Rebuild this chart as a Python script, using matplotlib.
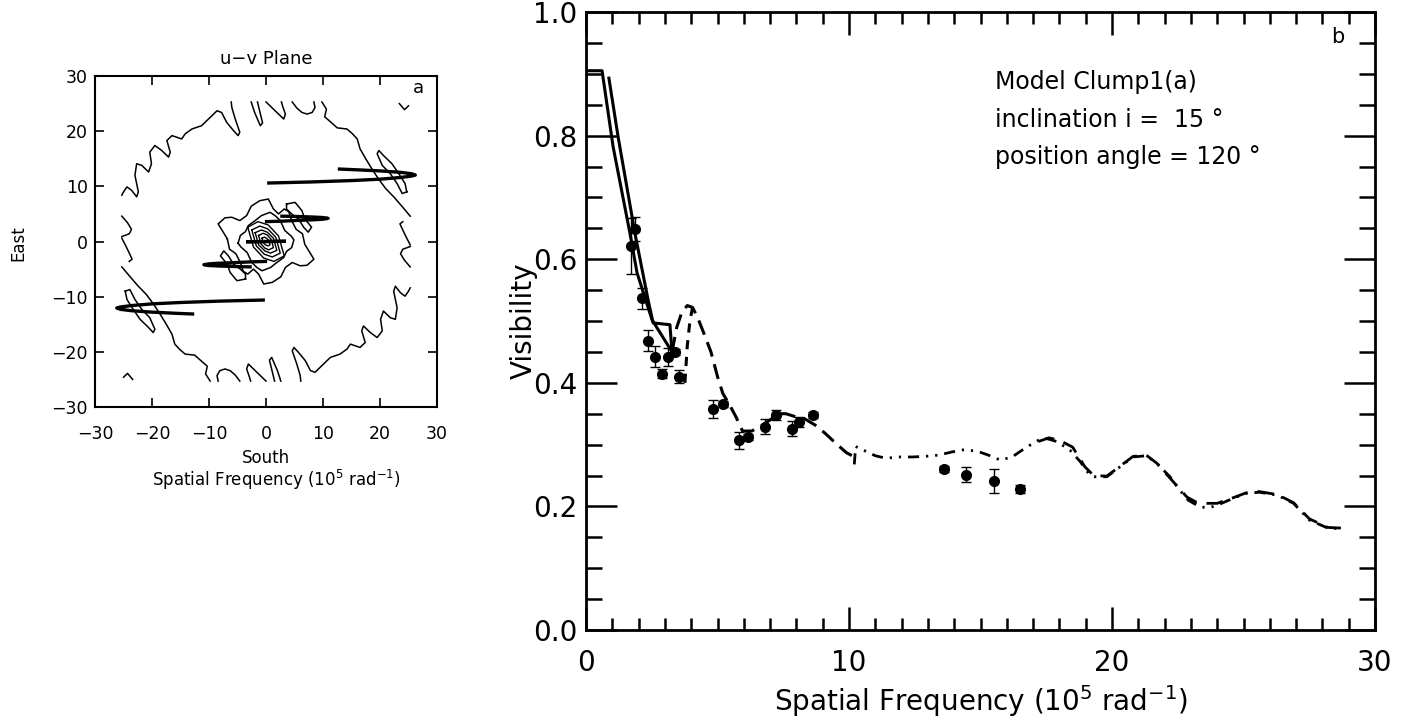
import numpy as np
import matplotlib
matplotlib.use('Agg')
import matplotlib.pyplot as plt

plt.rcParams['font.family'] = ['DejaVu Sans']

# === (a) u-v plane: contour pieces (u, v) in 10^5 rad^-1 ===
# only half of each symmetric contour is listed, V(-u,-v) = V*(u,v) gives the rest
outer_pieces = [
    [(-25.3, 8.4), (-25.0, 9.0), (-24.4, 9.9), (-23.6, 9.3), (-22.7, 8.1), (-22.4, 9.0),
     (-23.0, 12.0), (-22.7, 14.1), (-21.8, 13.8), (-20.6, 12.6), (-20.1, 14.1), (-20.4, 16.2),
     (-19.5, 17.4), (-18.3, 16.5), (-17.1, 15.3), (-16.8, 16.2), (-17.4, 18.3), (-16.5, 19.2),
     (-14.8, 18.6), (-14.2, 19.5), (-13.0, 20.4), (-11.3, 21.0), (-9.8, 22.5), (-8.6, 23.7),
     (-7.8, 23.4), (-6.9, 21.6), (-5.7, 20.1), (-4.9, 19.2), (-4.6, 19.8), (-5.4, 22.2),
     (-6.0, 24.3), (-6.1, 25.3)],
    [(-2.6, 25.3), (-2.0, 23.4), (-1.0, 21.0), (-0.6, 21.5), (-1.1, 23.6), (-1.5, 25.3)],
    [(0.0, 25.3), (1.6, 23.7), (3.1, 22.2), (3.4, 23.1), (2.9, 24.6), (2.7, 25.3)],
    [(4.6, 25.3), (5.4, 24.2), (6.3, 23.4), (7.2, 23.1), (8.1, 23.4), (8.6, 24.3), (8.4, 25.3)],
    [(9.8, 25.3), (10.6, 24.0), (10.3, 22.6), (11.2, 21.8), (12.5, 20.6), (14.2, 20.4),
     (15.1, 19.6), (16.0, 18.6), (16.5, 16.8), (17.5, 15.0), (18.5, 13.3), (19.7, 11.4),
     (21.0, 9.6), (22.5, 8.0), (24.0, 6.2), (25.3, 4.6)],
    [(24.7, 9.0), (23.9, 8.7), (23.0, 10.5), (21.8, 12.3), (20.4, 13.8), (19.5, 15.9),
     (19.8, 16.5), (20.6, 15.6), (22.1, 14.1), (23.3, 12.3), (24.4, 10.5), (24.7, 9.0)],
    [(-25.3, 4.6), (-24.3, 3.4), (-23.6, 2.2), (-24.0, 1.4), (-25.3, 0.9)],
    [(-25.3, 0.6), (-24.6, -0.8), (-23.9, -2.3), (-23.5, -3.2), (-24.0, -3.6)],
    [(23.4, 25.0), (24.3, 23.9), (25.0, 24.6)],
    [(3.6, 6.8), (5.1, 7.1), (6.3, 5.6), (6.8, 4.1), (8.0, 2.6), (7.4, 1.7), (6.6, 2.6),
     (5.7, 4.1), (4.5, 5.0), (3.6, 5.9), (3.6, 6.8)],
]
# closed inner contours: first half only
half_contours = [
    [(-6.8, 0.5), (-8.4, 3.2), (-7.2, 4.3), (-6.0, 4.4), (-4.6, 3.8), (-3.4, 4.7), (-2.6, 6.4),
     (-1.1, 7.4), (0.4, 7.7), (1.3, 5.9), (2.2, 5.0), (3.2, 5.9), (4.0, 5.4), (4.5, 3.8),
     (5.3, 2.2), (6.4, 1.4), (6.8, -0.5)],
    [(-4.9, -0.3), (-4.5, 1.1), (-3.6, 1.8), (-3.1, 2.9), (-1.9, 3.8), (-0.8, 4.7), (0.7, 5.3),
     (1.6, 4.7), (2.5, 3.8), (3.3, 2.0), (4.4, 1.0), (4.9, 0.3)],
]
core_contours = [
    [(-3.2, 2.6), (-1.4, 3.6), (0.4, 3.0), (2.2, 1.0), (3.2, -2.6), (1.4, -3.6), (-0.4, -3.0), (-2.2, -1.0)],
    [(-2.5, 2.1), (-1.1, 2.8), (0.3, 2.3), (1.7, 0.8), (2.5, -2.1), (1.1, -2.8), (-0.3, -2.3), (-1.7, -0.8)],
    [(-1.9, 1.6), (-0.8, 2.1), (0.2, 1.7), (1.3, 0.6), (1.9, -1.6), (0.8, -2.1), (-0.2, -1.7), (-1.3, -0.6)],
    [(-1.3, 1.1), (-0.5, 1.5), (0.2, 1.2), (0.9, 0.4), (1.3, -1.1), (0.5, -1.5), (-0.2, -1.2), (-0.9, -0.4)],
    [(-0.7, 0.6), (-0.3, 0.8), (0.1, 0.6), (0.5, 0.2), (0.7, -0.6), (0.3, -0.8), (-0.1, -0.6), (-0.5, -0.2)],
]
# uv tracks (mirrored as well)
uv_tracks = [
    [(0.2, 10.6), (8.0, 10.8), (15.0, 11.05), (20.0, 11.3), (23.5, 11.6), (25.5, 11.85),
     (26.2, 12.05), (25.5, 12.3), (23.5, 12.55), (20.0, 12.8), (16.0, 13.0), (12.6, 13.15)],
    [(-0.2, 3.6), (3.0, 3.7), (6.0, 3.85), (8.5, 3.95), (10.0, 4.05), (10.9, 4.2),
     (10.0, 4.35), (8.0, 4.45), (5.0, 4.55), (2.5, 4.6)],
    [(-3.5, -0.05), (3.5, 0.05)],
]

# === (b) visibility data ===
obs_x = [1.70, 1.86, 2.13, 2.36, 2.62, 2.87, 3.12, 3.38, 3.54, 4.84, 5.20, 5.83, 6.16,
         6.80, 7.23, 7.83, 8.08, 8.63, 13.6, 14.45, 15.5, 16.5]
obs_v = [0.621, 0.649, 0.537, 0.468, 0.442, 0.415, 0.442, 0.450, 0.410, 0.358, 0.366, 0.307,
         0.312, 0.329, 0.348, 0.326, 0.336, 0.348, 0.260, 0.251, 0.241, 0.228]
obs_err = [0.045, 0.020, 0.017, 0.017, 0.017, 0.008, 0.015, 0.005, 0.010, 0.015, 0.005, 0.014,
           0.005, 0.012, 0.008, 0.012, 0.008, 0.005, 0.005, 0.012, 0.020, 0.006]

solid1_x = [0.0, 0.61, 1.03, 1.67, 1.94, 2.51, 3.27]
solid1_v = [0.905, 0.905, 0.782, 0.642, 0.578, 0.502, 0.450]
solid2_x = [0.87, 1.22, 1.86, 2.36, 2.55, 3.19, 3.27]
solid2_v = [0.893, 0.798, 0.642, 0.534, 0.497, 0.494, 0.450]

dash1_x = [3.27, 3.45, 3.65, 3.85, 4.05, 4.25, 4.5, 4.75, 5.0, 5.2, 5.45, 5.7, 5.95, 6.3,
           6.65, 7.0, 7.3, 7.6, 7.9, 8.3, 8.7, 9.1, 9.5, 9.9, 10.25]
dash1_v = [0.45, 0.49, 0.515, 0.525, 0.522, 0.505, 0.478, 0.45, 0.41, 0.383, 0.365, 0.345,
           0.322, 0.322, 0.33, 0.34, 0.35, 0.35, 0.346, 0.342, 0.332, 0.318, 0.302, 0.287, 0.279]
dash2_x = [3.76, 3.85, 3.95, 4.05]
dash2_v = [0.40, 0.46, 0.50, 0.522]

dot_x = [10.2, 10.25, 10.6, 11.0, 11.4, 11.9, 12.4, 12.9, 13.4, 13.9, 14.4, 14.9, 15.3, 15.75,
         16.2, 16.75, 17.2, 17.5, 17.9, 18.4, 18.8, 19.1, 19.3, 19.8, 20.3, 20.8, 21.3, 21.7,
         22.2, 22.6, 22.9, 23.35, 23.7, 24.0, 24.6, 25.1, 25.6, 26.3, 26.9, 27.5, 28.2, 28.7]
dot_v = [0.268, 0.297, 0.29, 0.282, 0.278, 0.28, 0.28, 0.281, 0.283, 0.288, 0.292, 0.289,
         0.283, 0.275, 0.28, 0.296, 0.307, 0.31, 0.305, 0.291, 0.272, 0.254, 0.248, 0.248,
         0.264, 0.28, 0.282, 0.27, 0.248, 0.225, 0.21, 0.199, 0.198, 0.202, 0.213, 0.221,
         0.223, 0.218, 0.205, 0.178, 0.165, 0.164]
long_x = [17.2, 17.6, 18.0, 18.5, 18.97, 19.3, 19.8, 20.3, 20.8, 21.3, 21.7, 22.2, 22.85,
          23.2, 23.6, 24.0, 24.6, 25.1, 25.6, 26.3, 26.9, 27.5, 28.2, 28.7]
long_v = [0.305, 0.311, 0.307, 0.296, 0.264, 0.25, 0.249, 0.265, 0.281, 0.283, 0.27, 0.246,
          0.215, 0.207, 0.205, 0.205, 0.214, 0.222, 0.224, 0.219, 0.206, 0.18, 0.166, 0.165]

fig = plt.figure(figsize=(14.06, 7.24), dpi=100)

# --- panel a ---
ax1 = fig.add_axes([0.0676, 0.4378, 0.2432, 0.4572])
for piece in outer_pieces:
    p = np.array(piece)
    ax1.plot(p[:, 0], p[:, 1], color='black', lw=1.1, solid_joinstyle='round')
    ax1.plot(-p[:, 0], -p[:, 1], color='black', lw=1.1, solid_joinstyle='round')
for half in half_contours:
    h = np.array(half)
    full = np.vstack([h, -h, h[:1]])
    ax1.plot(full[:, 0], full[:, 1], color='black', lw=1.1, solid_joinstyle='round')
for ring in core_contours:
    r = np.array(ring + ring[:1])
    ax1.plot(r[:, 0], r[:, 1], color='black', lw=1.0, solid_joinstyle='round')
for tr in uv_tracks:
    t = np.array(tr)
    ax1.plot(t[:, 0], t[:, 1], color='black', lw=2.4, solid_capstyle='butt')
    ax1.plot(-t[:, 0], -t[:, 1], color='black', lw=2.4, solid_capstyle='butt')

ax1.set_xlim(-30, 30)
ax1.set_ylim(-30, 30)
ax1.set_xticks([-30, -20, -10, 0, 10, 20, 30])
ax1.set_yticks([-30, -20, -10, 0, 10, 20, 30])
ax1.tick_params(direction='in', length=6.5, width=1.2, top=True, right=True, labelsize=12.5)
ax1.tick_params(axis='x', pad=13)
ax1.tick_params(axis='y', pad=5)
for s in ax1.spines.values():
    s.set_linewidth(1.5)
ax1.set_title('u\u2212v Plane', fontsize=13, pad=9)
ax1.text(0.945, 0.965, 'a', transform=ax1.transAxes, ha='center', va='center', fontsize=13)
fig.text(18 / 1406, 1 - 243 / 724, 'East', rotation=90, ha='center', va='center', fontsize=12)
fig.text(266 / 1406, 1 - 458 / 724, 'South', ha='center', va='center', fontsize=12)
fig.text(276 / 1406, 1 - 480 / 724, 'Spatial Frequency (10$^5$ rad$^{-1}$)',
         ha='center', va='center', fontsize=12)

# --- panel b ---
ax2 = fig.add_axes([0.4168, 0.1298, 0.5612, 0.8536])
ax2.plot(solid1_x, solid1_v, color='black', lw=2.2)
ax2.plot(solid2_x, solid2_v, color='black', lw=2.2)
ax2.plot(dash1_x, dash1_v, color='black', lw=2.2, linestyle=(0, (5, 2.6)))
ax2.plot(dash2_x, dash2_v, color='black', lw=2.2, linestyle=(0, (3, 2.5)))
ax2.plot(dot_x, dot_v, color='black', lw=2.0, linestyle=(0, (4, 2.5, 0.8, 2.5, 0.8, 2.5)))
ax2.plot(long_x, long_v, color='black', lw=2.0, linestyle=(0, (6, 3.5)))
ax2.errorbar(obs_x, obs_v, yerr=obs_err, fmt='o', color='black', ms=7,
             elinewidth=1.0, capsize=3.5, capthick=1.0)

ax2.set_xlim(0, 30)
ax2.set_ylim(0, 1.0)
ax2.set_xticks([0, 10, 20, 30])
ax2.set_xticks(np.arange(0, 31, 1), minor=True)
ax2.set_yticks([0.0, 0.2, 0.4, 0.6, 0.8, 1.0])
ax2.set_yticks(np.arange(0, 1.001, 0.05), minor=True)
ax2.set_yticklabels(['0.0', '0.2', '0.4', '0.6', '0.8', '1.0'])
ax2.tick_params(which='both', direction='in', top=True, right=True, width=1.8, labelsize=20)
ax2.tick_params(axis='x', which='major', length=16.5, pad=14)
ax2.tick_params(axis='x', which='minor', length=8.5)
ax2.tick_params(axis='y', which='major', length=22, pad=6)
ax2.tick_params(axis='y', which='minor', length=11.5)
for s in ax2.spines.values():
    s.set_linewidth(2.0)
ax2.set_xlabel('Spatial Frequency (10$^5$ rad$^{-1}$)', fontsize=20, labelpad=4)
ax2.set_ylabel('Visibility', fontsize=20, labelpad=-3)
ax2.text(0.953, 0.96, 'b', transform=ax2.transAxes, ha='center', va='center', fontsize=15)
ax2.text(0.518, 0.887, 'Model Clump1(a)', transform=ax2.transAxes, ha='left', va='center', fontsize=17)
ax2.text(0.518, 0.825, 'inclination i =  15 \u00b0', transform=ax2.transAxes, ha='left', va='center', fontsize=17)
ax2.text(0.518, 0.765, 'position angle = 120 \u00b0', transform=ax2.transAxes, ha='left', va='center', fontsize=17)

fig.savefig('out.png', dpi=100)
